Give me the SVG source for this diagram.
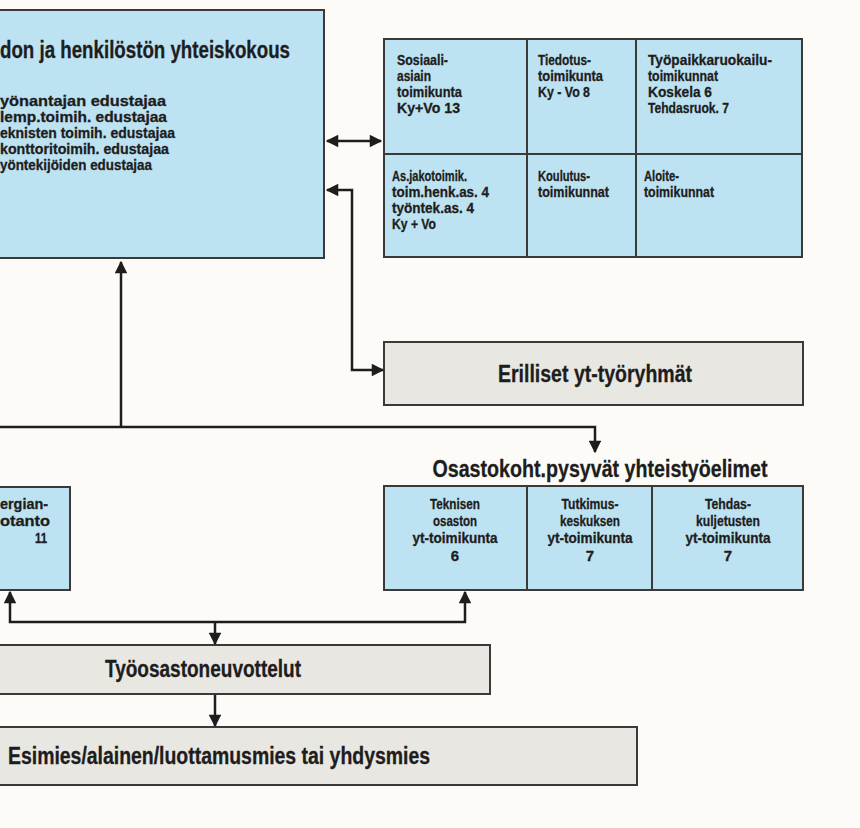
<svg xmlns="http://www.w3.org/2000/svg" width="860" height="828" viewBox="0 0 860 828">
<defs>
<style>
text{font-family:"Liberation Sans","DejaVu Sans",sans-serif;font-weight:bold;fill:#1d1d1d;stroke:#1d1d1d;stroke-width:0.3}
.blue{fill:#bde2f1;stroke:#3a3a3a;stroke-width:2}
.gray{fill:#e9e7e1;stroke:#3a3a3a;stroke-width:2}
.div{stroke:#3a3a3a;stroke-width:2;fill:none}
.conn{stroke:#1d1d1d;stroke-width:2.5;fill:none}
.big{font-size:23px}
.sm{font-size:15px}
</style>
<marker id="ah" viewBox="0 0 10 10" refX="9" refY="5" markerWidth="5.5" markerHeight="5" orient="auto-start-reverse" markerUnits="strokeWidth">
<path d="M0,0 L10,5 L0,10 Z" fill="#1d1d1d"/>
</marker>
</defs>
<rect width="860" height="828" fill="#fcfbf7"/>

<g id="yhteiskokous">
<rect class="blue" x="-2" y="10" width="326" height="248"/>
<text class="big" x="0" y="58" textLength="290" lengthAdjust="spacingAndGlyphs">don ja henkilöstön yhteiskokous</text>
<text class="sm" x="0" y="106" textLength="166" lengthAdjust="spacingAndGlyphs">yönantajan edustajaa</text>
<text class="sm" x="0" y="122" textLength="167" lengthAdjust="spacingAndGlyphs">lemp.toimih. edustajaa</text>
<text class="sm" x="0" y="138" textLength="175" lengthAdjust="spacingAndGlyphs">eknisten toimih. edustajaa</text>
<text class="sm" x="0" y="154" textLength="169" lengthAdjust="spacingAndGlyphs">konttoritoimih. edustajaa</text>
<text class="sm" x="0" y="170" textLength="152" lengthAdjust="spacingAndGlyphs">yöntekijöiden edustajaa</text>
</g>

<g id="toimikunnat">
<rect class="blue" x="384" y="39" width="418" height="218"/>
<path class="div" d="M527,39 V257 M636,39 V257 M384,154 H802"/>
<text class="sm" x="397" y="65" textLength="51" lengthAdjust="spacingAndGlyphs">Sosiaali-</text>
<text class="sm" x="397" y="81" textLength="34" lengthAdjust="spacingAndGlyphs">asiain</text>
<text class="sm" x="397" y="97" textLength="65" lengthAdjust="spacingAndGlyphs">toimikunta</text>
<text class="sm" x="397" y="113" textLength="63" lengthAdjust="spacingAndGlyphs">Ky+Vo 13</text>
<text class="sm" x="538" y="65" textLength="53" lengthAdjust="spacingAndGlyphs">Tiedotus-</text>
<text class="sm" x="538" y="81" textLength="65" lengthAdjust="spacingAndGlyphs">toimikunta</text>
<text class="sm" x="538" y="97" textLength="52" lengthAdjust="spacingAndGlyphs">Ky - Vo 8</text>
<text class="sm" x="648" y="65" textLength="124" lengthAdjust="spacingAndGlyphs">Työpaikkaruokailu-</text>
<text class="sm" x="648" y="81" textLength="70" lengthAdjust="spacingAndGlyphs">toimikunnat</text>
<text class="sm" x="648" y="97" textLength="64" lengthAdjust="spacingAndGlyphs">Koskela 6</text>
<text class="sm" x="648" y="113" textLength="81" lengthAdjust="spacingAndGlyphs">Tehdasruok. 7</text>
<text class="sm" x="392" y="181" textLength="75" lengthAdjust="spacingAndGlyphs">As.jakotoimik.</text>
<text class="sm" x="392" y="197" textLength="97" lengthAdjust="spacingAndGlyphs">toim.henk.as. 4</text>
<text class="sm" x="392" y="213" textLength="82" lengthAdjust="spacingAndGlyphs">työntek.as. 4</text>
<text class="sm" x="392" y="229" textLength="44" lengthAdjust="spacingAndGlyphs">Ky + Vo</text>
<text class="sm" x="538" y="181" textLength="52" lengthAdjust="spacingAndGlyphs">Koulutus-</text>
<text class="sm" x="538" y="197" textLength="71" lengthAdjust="spacingAndGlyphs">toimikunnat</text>
<text class="sm" x="644" y="181" textLength="35" lengthAdjust="spacingAndGlyphs">Aloite-</text>
<text class="sm" x="644" y="197" textLength="70" lengthAdjust="spacingAndGlyphs">toimikunnat</text>
</g>

<g id="erilliset">
<rect class="gray" x="384" y="342" width="419" height="63"/>
<text class="big" x="595" y="382" text-anchor="middle" textLength="194" lengthAdjust="spacingAndGlyphs">Erilliset yt-työryhmät</text>
</g>

<g id="osastokoht">
<text class="big" x="600" y="477" text-anchor="middle" textLength="335" lengthAdjust="spacingAndGlyphs">Osastokoht.pysyvät yhteistyöelimet</text>
<rect class="blue" x="384" y="486" width="419" height="104"/>
<path class="div" d="M527,486 V590 M652,486 V590"/>
<text class="sm" text-anchor="middle" x="455" y="509" textLength="50" lengthAdjust="spacingAndGlyphs">Teknisen</text>
<text class="sm" text-anchor="middle" x="455" y="526" textLength="44" lengthAdjust="spacingAndGlyphs">osaston</text>
<text class="sm" text-anchor="middle" x="455" y="543" textLength="85" lengthAdjust="spacingAndGlyphs">yt-toimikunta</text>
<text class="sm" text-anchor="middle" x="455" y="561">6</text>
<text class="sm" text-anchor="middle" x="590" y="509" textLength="57" lengthAdjust="spacingAndGlyphs">Tutkimus-</text>
<text class="sm" text-anchor="middle" x="590" y="526" textLength="60" lengthAdjust="spacingAndGlyphs">keskuksen</text>
<text class="sm" text-anchor="middle" x="590" y="543" textLength="85" lengthAdjust="spacingAndGlyphs">yt-toimikunta</text>
<text class="sm" text-anchor="middle" x="590" y="561">7</text>
<text class="sm" text-anchor="middle" x="728" y="509" textLength="46" lengthAdjust="spacingAndGlyphs">Tehdas-</text>
<text class="sm" text-anchor="middle" x="728" y="526" textLength="64" lengthAdjust="spacingAndGlyphs">kuljetusten</text>
<text class="sm" text-anchor="middle" x="728" y="543" textLength="85" lengthAdjust="spacingAndGlyphs">yt-toimikunta</text>
<text class="sm" text-anchor="middle" x="728" y="561">7</text>
</g>

<g id="energia">
<rect class="blue" x="-2" y="487" width="72" height="103"/>
<text class="sm" x="48" y="509" text-anchor="end" textLength="48" lengthAdjust="spacingAndGlyphs">ergian-</text>
<text class="sm" x="50" y="526" text-anchor="end" textLength="50" lengthAdjust="spacingAndGlyphs">otanto</text>
<text class="sm" x="47" y="543" text-anchor="end" textLength="12" lengthAdjust="spacingAndGlyphs">11</text>
</g>

<g id="tyoosasto">
<rect class="gray" x="-2" y="645" width="492" height="49"/>
<text class="big" x="203" y="677" text-anchor="middle" textLength="196" lengthAdjust="spacingAndGlyphs">Työosastoneuvottelut</text>
</g>

<g id="esimies">
<rect class="gray" x="-2" y="727" width="639" height="58"/>
<text class="big" x="8" y="764" textLength="422" lengthAdjust="spacingAndGlyphs">Esimies/alainen/luottamusmies tai yhdysmies</text>
</g>

<g id="connectors">
<path class="conn" d="M327,141 H381" marker-start="url(#ah)" marker-end="url(#ah)"/>
<path class="conn" d="M327,190 H352 V370 H383" marker-start="url(#ah)" marker-end="url(#ah)"/>
<path class="conn" d="M121,427 V262" marker-end="url(#ah)"/>
<path class="conn" d="M0,427 H595 V452" marker-end="url(#ah)"/>
<path class="conn" d="M10,592 V622 H465 V592" marker-start="url(#ah)" marker-end="url(#ah)"/>
<path class="conn" d="M215,622 V644" marker-end="url(#ah)"/>
<path class="conn" d="M215,695 V726" marker-end="url(#ah)"/>
</g>
</svg>
